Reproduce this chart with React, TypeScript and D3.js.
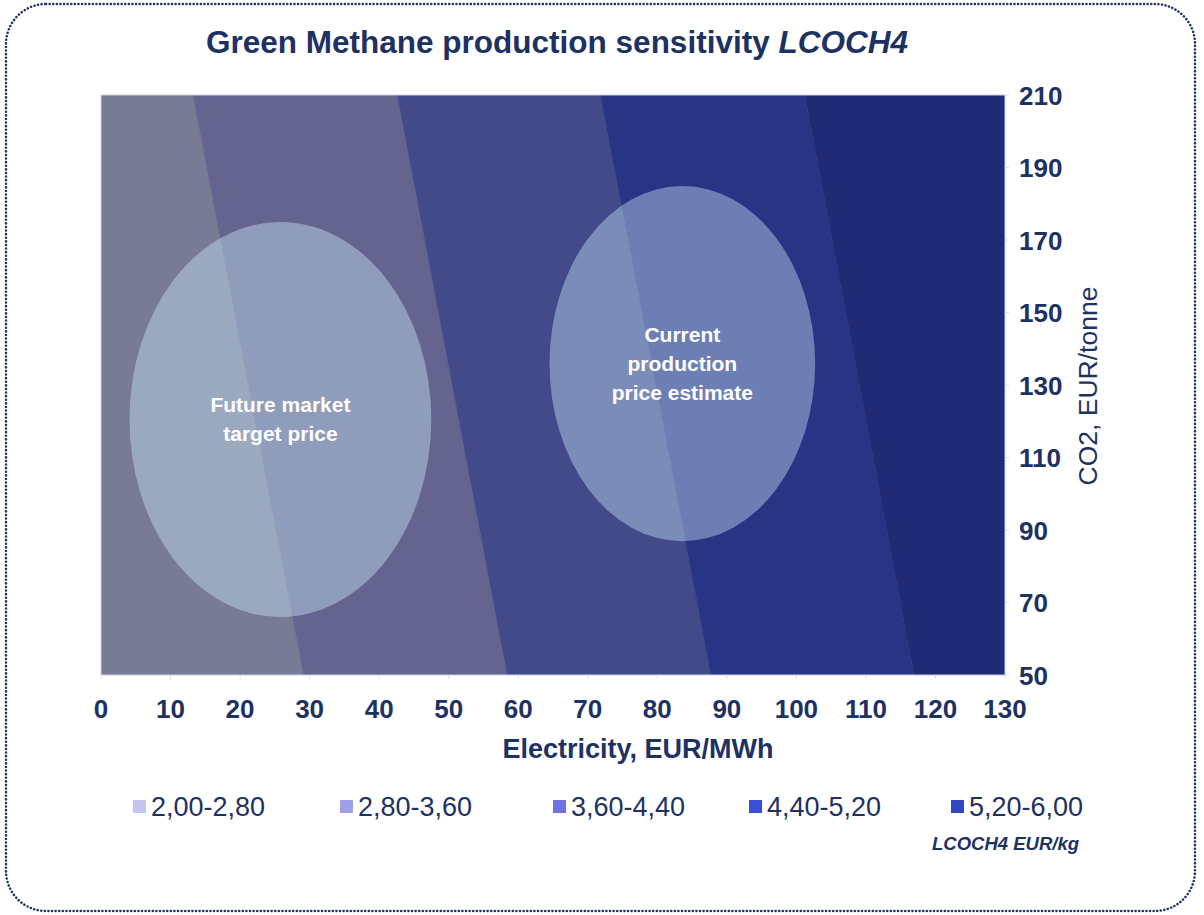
import React from 'react';
import * as d3 from 'd3';

// LCOCH4 contour bands, EUR/kg
const bandLabels = ['2,00-2,80', '2,80-3,60', '3,60-4,40', '4,40-5,20', '5,20-6,00'];
const bandColors = ['#797a94', '#64648f', '#434a8a', '#283584', '#212a74'];
const legendColors = ['#c4c4f0', '#a0a0ea', '#6f72e2', '#3a4fd8', '#3446c4'];

// contour boundaries between bands: electricity price where the level is reached
const levels = [2.8, 3.6, 4.4, 5.2];
const elecAtCo2Low = [29.1, 58.4, 87.7, 116.9]; // CO2 = 50
const elecAtCo2High = [13.2, 42.6, 71.8, 101.2]; // CO2 = 210

const xTicks = [0, 10, 20, 30, 40, 50, 60, 70, 80, 90, 100, 110, 120, 130];
const yTicks = [50, 70, 90, 110, 130, 150, 170, 190, 210];

// highlighted regions (electricity, CO2 centre and radii)
const zones = [
  { lines: ['Future market', 'target price'], elec: 25.8, co2: 120.5, rElec: 21.7, rCo2: 54.5 },
  { lines: ['Current', 'production', 'price estimate'], elec: 83.6, co2: 135.9, rElec: 19.1, rCo2: 49.0 },
];

const navy = '#1e3163';
const font = 'Arial, "Liberation Sans", sans-serif';

const App: React.FC = () => {
  const width = 1204;
  const height = 915;
  const plot = { left: 101, right: 1005, top: 95, bottom: 675 };

  const x = d3.scaleLinear().domain([0, 130]).range([plot.left, plot.right]);
  const y = d3.scaleLinear().domain([50, 210]).range([plot.bottom, plot.top]);

  const [xMin, xMax] = x.domain();
  const [yMin, yMax] = y.domain();

  // build band polygons from the boundaries
  const bands = bandColors.map((color, i) => {
    const leftLow = i === 0 ? xMin : elecAtCo2Low[i - 1];
    const leftHigh = i === 0 ? xMin : elecAtCo2High[i - 1];
    const rightLow = i === levels.length ? xMax : elecAtCo2Low[i];
    const rightHigh = i === levels.length ? xMax : elecAtCo2High[i];
    const pts: [number, number][] = [
      [leftHigh, yMax],
      [rightHigh, yMax],
      [rightLow, yMin],
      [leftLow, yMin],
    ];
    const line = d3.line<[number, number]>().x(d => x(d[0])).y(d => y(d[1]));
    return { color, d: line(pts) + 'Z' };
  });

  const legendX = [133, 340, 553, 749, 951];

  return (
    <svg
      width={width}
      height={height}
      style={{ position: 'absolute', left: 0, top: 0, background: '#fff' }}
      fontFamily={font}
    >
      <rect x={6} y={4} width={1189} height={907} rx={40} ry={40} fill="none"
        stroke={navy} strokeWidth={2.5} strokeDasharray="0.1 3.5" strokeLinecap="round" />

      <text x={557} y={53} textAnchor="middle" fontSize={31.5} fontWeight="bold" fill={navy}>
        Green Methane production sensitivity <tspan fontStyle="italic">LCOCH4</tspan>
      </text>

      <defs>
        <clipPath id="plotClip">
          <rect x={plot.left} y={plot.top} width={plot.right - plot.left} height={plot.bottom - plot.top} />
        </clipPath>
      </defs>

      <g clipPath="url(#plotClip)">
        {bands.map((b, i) => (
          <path key={i} d={b.d} fill={b.color} stroke={b.color} strokeWidth={0.5} />
        ))}
        {zones.map((z, i) => (
          <ellipse key={i} cx={x(z.elec)} cy={y(z.co2)}
            rx={x(z.elec + z.rElec) - x(z.elec)} ry={y(z.co2 - z.rCo2) - y(z.co2)}
            fill="rgb(207,240,255)" fillOpacity={0.4} />
        ))}
      </g>

      <rect x={plot.left} y={plot.top} width={plot.right - plot.left} height={plot.bottom - plot.top}
        fill="none" stroke="#cfd0e2" strokeWidth={1} />

      {zones.map((z, i) => {
        const n = z.lines.length;
        return z.lines.map((ln, j) => (
          <text key={`${i}-${j}`} x={x(z.elec)} y={y(z.co2) + (j - (n - 1) / 2) * 29 + 7}
            textAnchor="middle" fontSize={21} fontWeight="bold" fill="#ffffff">{ln}</text>
        ));
      })}

      {xTicks.map(t => (
        <g key={t}>
          <line x1={x(t)} x2={x(t)} y1={plot.bottom} y2={plot.bottom + 4} stroke="#dfe0ec" />
          <text x={x(t)} y={718} textAnchor="middle" fontSize={26} fontWeight="bold" fill={navy}>{t}</text>
        </g>
      ))}
      {yTicks.map(t => (
        <g key={t}>
          <line x1={plot.right} x2={plot.right + 4} y1={y(t)} y2={y(t)} stroke="#dfe0ec" />
          <text x={1019} y={y(t) + 9.5} fontSize={26} fontWeight="bold" fill={navy}>{t}</text>
        </g>
      ))}

      <text x={638} y={758} textAnchor="middle" fontSize={27} fontWeight="bold" fill={navy}>
        Electricity, EUR/MWh
      </text>
      <text transform={`translate(1097, 386) rotate(-90)`} textAnchor="middle" fontSize={26.5} fill={navy}>
        CO2, EUR/tonne
      </text>

      {bandLabels.map((lb, i) => (
        <g key={lb}>
          <rect x={legendX[i]} y={800} width={13} height={13} fill={legendColors[i]} />
          <text x={legendX[i] + 18} y={816} fontSize={27} fill={navy}>{lb}</text>
        </g>
      ))}
      <text x={1079} y={850} textAnchor="end" fontSize={18.5} fontWeight="bold" fontStyle="italic" fill={navy}>
        LCOCH4 EUR/kg
      </text>
    </svg>
  );
};

export default App;
